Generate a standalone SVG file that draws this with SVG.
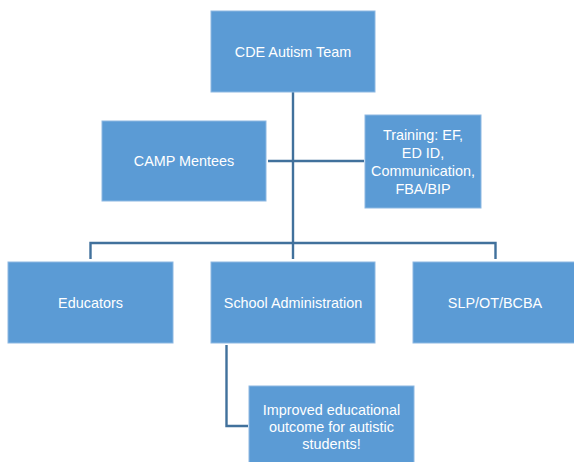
<svg xmlns="http://www.w3.org/2000/svg" width="574" height="462" viewBox="0 0 574 462">
<style>
.box{fill:#5B9BD5;stroke:#8DB8E2;stroke-width:1}
.lbl{font-family:"Liberation Sans",Arial,sans-serif;font-size:14.4px;fill:#FFFFFF;text-anchor:middle;dominant-baseline:central}
.con{fill:none;stroke:#41719C;stroke-width:2.4}
</style>
<rect width="574" height="462" fill="#FFFFFF"/>
<g id="connectors">
<path class="con" d="M293 92 V243"/>
<path class="con" d="M268 161 H364"/>
<path class="con" d="M90.5 259 V243 H495.5 V259"/>
<path class="con" d="M293 243 V259"/>
<path class="con" d="M226.5 345 V426 H248"/>
</g>
<g id="cde">
<rect class="box" x="211" y="11" width="164" height="81"/>
<text class="lbl" x="293" y="51.5">CDE Autism Team</text>
</g>
<g id="camp">
<rect class="box" x="102" y="121" width="164" height="80"/>
<text class="lbl" x="184" y="161">CAMP Mentees</text>
</g>
<g id="training">
<rect class="box" x="365" y="115" width="116" height="93"/>
<text class="lbl" x="423" y="134.5">Training: EF,</text>
<text class="lbl" x="423" y="152.5">ED ID,</text>
<text class="lbl" x="423" y="170.5">Communication,</text>
<text class="lbl" x="423" y="188.5">FBA/BIP</text>
</g>
<g id="educators">
<rect class="box" x="8" y="262" width="165" height="81"/>
<text class="lbl" x="90.5" y="302.5">Educators</text>
</g>
<g id="admin">
<rect class="box" x="211" y="262" width="164" height="81"/>
<text class="lbl" x="293" y="302.5">School Administration</text>
</g>
<g id="slp">
<rect class="box" x="413" y="262" width="165" height="81"/>
<text class="lbl" x="495" y="302.5">SLP/OT/BCBA</text>
</g>
<g id="outcome">
<rect class="box" x="249" y="386" width="165" height="80"/>
<text class="lbl" x="331.5" y="410">Improved educational</text>
<text class="lbl" x="331.5" y="427">outcome for autistic</text>
<text class="lbl" x="331.5" y="444">students!</text>
</g>
</svg>
